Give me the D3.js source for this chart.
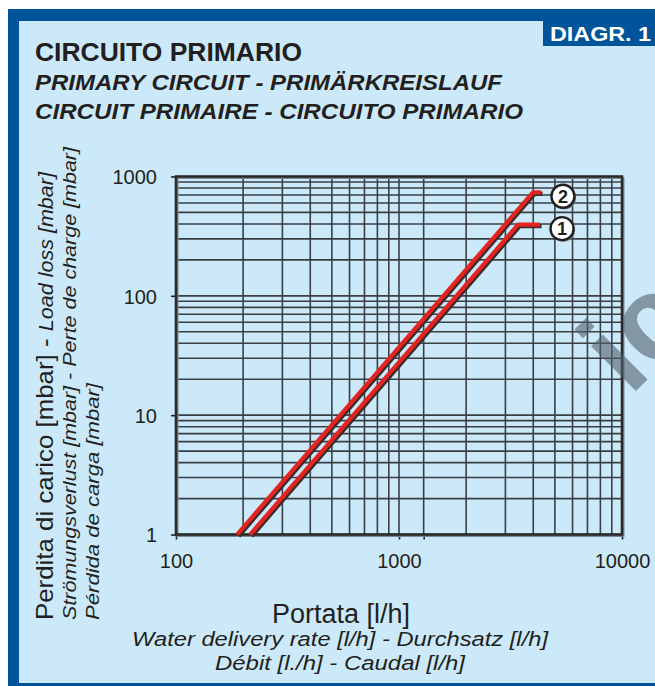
<!DOCTYPE html>
<html>
<head>
<meta charset="utf-8">
<script src="https://cdn.jsdelivr.net/npm/d3@7"></script>
<style>
  body { margin: 0; background: #fff; }
  svg { display: block; font-family: "Liberation Sans", Arial, Helvetica, sans-serif; }
</style>
</head>
<body>
<div id="chart"></div>
<script>
// ---------------- data ----------------
const flowTicks = [100, 1000, 10000];
const lossTicks = [1, 10, 100, 1000];
// odd extra tick mark below the x axis, as printed in the original
const extraFlowTick = [1290];

const curveNames = ["1", "2"];
const curve1Flow = [215, 3420, 4290];
const curve1Loss = [1, 395, 395];
const curve2Flow = [188, 3990, 4330];
const curve2Loss = [1, 737, 737];

const titleLines = [
  "CIRCUITO PRIMARIO",
  "PRIMARY CIRCUIT - PRIMÄRKREISLAUF",
  "CIRCUIT PRIMAIRE - CIRCUITO PRIMARIO"
];
const xTitleLines = [
  "Portata [l/h]",
  "Water delivery rate [l/h] - Durchsatz [l/h]",
  "Débit [l./h] - Caudal [l/h]"
];

// ---------------- layout ----------------
const W = 655, H = 686;
const plot = { left: 176, right: 622, top: 176.5, bottom: 534.5 };
const BLUE = "#00559a", PALE = "#cce9f9", INK = "#231f20", RED = "#e52421";

const svg = d3.select("#chart").append("svg")
  .attr("width", W).attr("height", H);

// frame / background
svg.append("rect").attr("x", 8).attr("y", 9).attr("width", W - 8).attr("height", H - 9).attr("fill", BLUE);
svg.append("rect").attr("x", 19).attr("y", 21).attr("width", W - 19).attr("height", H - 24).attr("fill", PALE);

// DIAGR. 1 tag
svg.append("rect").attr("x", 543).attr("y", 20).attr("width", W - 543).attr("height", 26).attr("fill", BLUE);
svg.append("text").attr("x", 550).attr("y", 41)
  .attr("fill", "#fff").attr("font-weight", "bold").attr("font-size", 20)
  .attr("textLength", 101).attr("lengthAdjust", "spacingAndGlyphs")
  .text("DIAGR. 1");

// titles
svg.append("text").attr("x", 35).attr("y", 61)
  .attr("fill", INK).attr("font-weight", "bold").attr("font-size", 25)
  .attr("textLength", 267).attr("lengthAdjust", "spacingAndGlyphs")
  .text(titleLines[0]);
[[titleLines[1], 90, 467], [titleLines[2], 119, 488]].forEach(([t, y, len]) => {
  svg.append("text").attr("x", 35).attr("y", y)
    .attr("fill", INK).attr("font-weight", "bold").attr("font-style", "italic").attr("font-size", 22)
    .attr("textLength", len).attr("lengthAdjust", "spacingAndGlyphs")
    .text(t);
});

// ---------------- scales ----------------
const x = d3.scaleLog().domain([100, 10000]).range([plot.left, plot.right]);
const y = d3.scaleLog().domain([1, 1000]).range([plot.bottom, plot.top]);

// grid
const xGrid = [];
for (let dec = 100; dec < 10000; dec *= 10) for (let k = 1; k < 10; k++) xGrid.push(dec * k);
const yGrid = [];
for (let dec = 1; dec < 1000; dec *= 10) for (let k = 1; k < 10; k++) yGrid.push(dec * k);

const grid = svg.append("g").attr("stroke", "#3a3f44").attr("stroke-width", 1.6);
grid.selectAll("line.v").data(xGrid.concat(extraFlowTick)).join("line")
  .attr("x1", d => x(d)).attr("x2", d => x(d))
  .attr("y1", plot.top).attr("y2", plot.bottom);
grid.selectAll("line.h").data(yGrid).join("line")
  .attr("x1", plot.left).attr("x2", plot.right)
  .attr("y1", d => y(d)).attr("y2", d => y(d));

// axes (ticks outside, labels)
const xAxis = d3.axisBottom(x).tickValues(flowTicks.concat(extraFlowTick))
  .tickSize(5).tickPadding(14).tickFormat(d => flowTicks.includes(d) ? d : "");
const gx = svg.append("g").attr("transform", `translate(0,${plot.bottom})`).call(xAxis);
gx.select(".domain").remove();
gx.selectAll("line").attr("stroke", INK).attr("stroke-width", 1.6);
gx.selectAll("text").attr("font-size", 20).attr("fill", INK)
  .attr("font-family", "Liberation Sans, Arial, sans-serif");

const yAxis = d3.axisLeft(y).tickValues(lossTicks).tickSize(5).tickPadding(14).tickFormat(d => d);
const gy = svg.append("g").attr("transform", `translate(${plot.left},0)`).call(yAxis);
gy.select(".domain").remove();
gy.selectAll("line").attr("stroke", INK).attr("stroke-width", 1.6);
gy.selectAll("text").attr("font-size", 20).attr("fill", INK).attr("dy", "0.36em")
  .attr("font-family", "Liberation Sans, Arial, sans-serif");

// plot border
svg.append("rect")
  .attr("x", plot.left + 1.5).attr("y", plot.top + 1.5)
  .attr("width", plot.right - plot.left).attr("height", plot.bottom - plot.top)
  .attr("fill", "none").attr("stroke", "#7a8a94").attr("stroke-width", 2);
svg.append("rect")
  .attr("x", plot.left).attr("y", plot.top)
  .attr("width", plot.right - plot.left).attr("height", plot.bottom - plot.top)
  .attr("fill", "none").attr("stroke", "#2a2a2a").attr("stroke-width", 2.6);

// ---------------- curves ----------------
const curves = [
  { name: curveNames[0], pts: curve1Flow.map((f, i) => [f, curve1Loss[i]]) },
  { name: curveNames[1], pts: curve2Flow.map((f, i) => [f, curve2Loss[i]]) }
];
const line = d3.line().x(d => x(d[0])).y(d => y(d[1]));

curves.forEach(c => {
  svg.append("path").datum(c.pts).attr("d", line)
    .attr("transform", "translate(1.5,1.5)")
    .attr("fill", "none").attr("stroke", "#3b2b2b").attr("stroke-width", 4.4);
  svg.append("path").datum(c.pts).attr("d", line)
    .attr("fill", "none").attr("stroke", RED).attr("stroke-width", 4.2)
    .attr("stroke-linejoin", "round");

  const end = c.pts[c.pts.length - 1];
  const cx = x(end[0]) + 22, cy = y(end[1]) + 4;
  svg.append("circle").attr("cx", cx + 1.5).attr("cy", cy + 1.5).attr("r", 11.5)
    .attr("fill", "#6b7780");
  svg.append("circle").attr("cx", cx).attr("cy", cy).attr("r", 11.5)
    .attr("fill", "#fff").attr("stroke", INK).attr("stroke-width", 2.4);
  svg.append("text").attr("x", cx).attr("y", cy).attr("dy", "0.36em")
    .attr("text-anchor", "middle").attr("font-weight", "bold").attr("font-size", 18)
    .attr("fill", INK).text(c.name);
});

// ---------------- axis titles ----------------
const yt = svg.append("g").attr("fill", INK);
const l1 = yt.append("text").attr("transform", "translate(53,620) rotate(-90)")
  .attr("textLength", 448).attr("lengthAdjust", "spacingAndGlyphs");
l1.append("tspan").attr("font-size", 24).text("Perdita di carico [mbar] - ");
l1.append("tspan").attr("font-size", 20).attr("font-style", "italic").text("Load loss [mbar]");
yt.append("text").attr("transform", "translate(76,620) rotate(-90)")
  .attr("font-size", 19).attr("font-style", "italic")
  .attr("textLength", 473).attr("lengthAdjust", "spacingAndGlyphs")
  .text("Strömungsverlust [mbar] - Perte de charge [mbar]");
yt.append("text").attr("transform", "translate(99,620) rotate(-90)")
  .attr("font-size", 19).attr("font-style", "italic")
  .attr("textLength", 237).attr("lengthAdjust", "spacingAndGlyphs")
  .text("Pérdida de carga [mbar]");

svg.append("text").attr("x", 341).attr("y", 623).attr("text-anchor", "middle")
  .attr("font-size", 27).attr("fill", INK).text(xTitleLines[0]);
svg.append("text").attr("x", 340).attr("y", 646).attr("text-anchor", "middle")
  .attr("font-size", 20).attr("font-style", "italic").attr("fill", INK)
  .attr("textLength", 416).attr("lengthAdjust", "spacingAndGlyphs")
  .text(xTitleLines[1]);
svg.append("text").attr("x", 340).attr("y", 670).attr("text-anchor", "middle")
  .attr("font-size", 20).attr("font-style", "italic").attr("fill", INK)
  .attr("textLength", 250).attr("lengthAdjust", "spacingAndGlyphs")
  .text(xTitleLines[2]);

// partial watermark at the right edge (cut off by the page, as in the original)
svg.append("text").attr("transform", "translate(630,397) rotate(-45)")
  .attr("font-size", 120).attr("font-weight", "bold")
  .attr("fill", "#52626b").attr("opacity", 0.6)
  .text("ic");
</script>
</body>
</html>
